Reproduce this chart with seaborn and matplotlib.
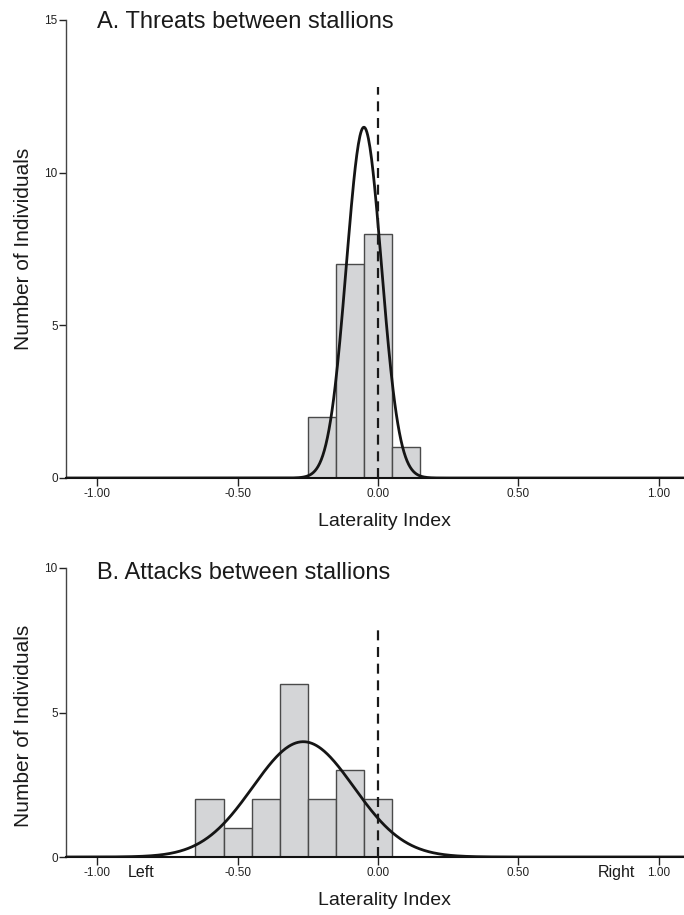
import numpy as np
import pandas as pd
import matplotlib
matplotlib.use("Agg")
import matplotlib.pyplot as plt
import seaborn as sns

# Datos (centros de clase y frecuencias)
threat_centers = [-0.2, -0.1, 0.0, 0.1]
threat_counts = [2, 7, 8, 1]
attack_centers = [-0.6, -0.5, -0.4, -0.3, -0.2, -0.1, 0.0]
attack_counts = [2, 1, 2, 6, 2, 3, 2]

# Curva normal ajustada (media, desviacion)
threat_fit = (-0.05, 0.0625)
attack_fit = (-0.266, 0.18)

bin_width = 0.1
x_ticks = [-1.0, -0.5, 0.0, 0.5, 1.0]
x_ticklabels = ["-1.00", "-0.50", "0.00", "0.50", "1.00"]

sns.set_style("white")
plt.rcParams['font.family'] = ['Liberation Sans', 'DejaVu Sans']

fig = plt.figure(figsize=(6.84, 9.15), dpi=100)
W, H = 684, 915


def make_axes(left, top, right, bottom):
    return fig.add_axes([left / W, 1 - bottom / H, (right - left) / W, (bottom - top) / H])


def draw_panel(ax, centers, counts, fit, ymax, yticks, dash_top, title, title_y, xlab_y, ylab_y):
    df = pd.DataFrame({"x": centers, "n": counts})
    lo = min(centers) - bin_width / 2
    hi = max(centers) + bin_width / 2
    sns.histplot(data=df, x="x", weights="n", binwidth=bin_width, binrange=(lo, hi),
                 color="#d4d5d7", edgecolor="#4a4a4a", linewidth=1.0, alpha=1.0, ax=ax)

    # curva normal sobre todo el rango
    mu, sd = fit
    xs = np.linspace(-1.111, 1.09, 800)
    ys = sum(counts) * bin_width / (sd * np.sqrt(2 * np.pi)) * np.exp(-(xs - mu) ** 2 / (2 * sd ** 2))
    sns.lineplot(x=xs, y=ys, color="#151515", linewidth=2.0, ax=ax, zorder=4)

    ax.plot([0, 0], [0, dash_top], color="#1a1a1a", linewidth=1.6, linestyle=(0, (4.5, 3)), zorder=5)

    ax.set_xlim(-1.111, 1.09)
    ax.set_ylim(0, ymax)
    ax.set_xticks(x_ticks)
    ax.set_xticklabels(x_ticklabels)
    ax.set_yticks(yticks)
    ax.set_yticklabels([str(t) for t in yticks])
    ax.tick_params(axis="x", direction="out", length=6, width=1, pad=1.5, labelsize=8.5,
                   colors="#222222", bottom=True)
    ax.tick_params(axis="y", direction="out", length=5, width=1, pad=1, labelsize=8.5,
                   colors="#222222", left=True)
    ax.set_xlabel("")
    ax.set_ylabel("")
    for s in ["top", "right"]:
        ax.spines[s].set_visible(False)
    ax.spines["left"].set_color("#444444")
    ax.spines["left"].set_linewidth(1.0)
    ax.spines["bottom"].set_color("#111111")
    ax.spines["bottom"].set_linewidth(1.5)

    ax.text(0.05, title_y, title, transform=ax.transAxes, fontsize=17, va="center", ha="left",
            color="#1a1a1a")
    ax.text(0.515, xlab_y, "Laterality Index", transform=ax.transAxes, fontsize=14,
            va="center", ha="center", color="#1a1a1a")
    ax.text(-0.068, ylab_y, "Number of Individuals", transform=ax.transAxes, fontsize=15,
            va="center", ha="center", rotation=90, color="#1a1a1a")


ax1 = make_axes(66, 20, 684, 478)
draw_panel(ax1, threat_centers, threat_counts, threat_fit, 15, [0, 5, 10, 15], 12.8,
           "A. Threats between stallions", 0.996, -0.096, 0.5)

ax2 = make_axes(66, 568, 684, 857)
draw_panel(ax2, attack_centers, attack_counts, attack_fit, 10, [0, 5, 10], 8.0,
           "B. Attacks between stallions", 0.983, -0.152, 0.455)

tr = ax2.get_xaxis_transform()
ax2.text(-0.844, -0.054, "Left", transform=tr, fontsize=11.5, ha="center", va="center", color="#1a1a1a")
ax2.text(0.848, -0.054, "Right", transform=tr, fontsize=11.5, ha="center", va="center", color="#1a1a1a")

fig.savefig("out.png", dpi=100)
